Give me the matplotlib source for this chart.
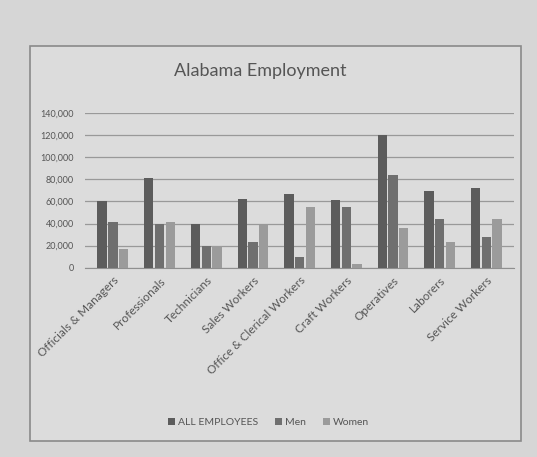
import numpy as np
import matplotlib
matplotlib.use("Agg")
import matplotlib.pyplot as plt
from matplotlib.patches import Rectangle
from matplotlib.ticker import FuncFormatter

categories = ["Officials & Managers", "Professionals", "Technicians", "Sales Workers",
              "Office & Clerical Workers", "Craft Workers", "Operatives", "Laborers",
              "Service Workers"]
all_employees = [60000, 81000, 40000, 62000, 67000, 61000, 120000, 69000, 72000]
men = [41000, 40000, 20000, 23000, 10000, 55000, 84000, 44000, 28000]
women = [17000, 41000, 19500, 39000, 55000, 3500, 36000, 23500, 44000]
series_names = ["ALL EMPLOYEES", "Men", "Women"]

plt.rcParams['font.family'] = ['Lato', 'DejaVu Sans']

fig = plt.figure(figsize=(5.37, 4.57), dpi=100)
fig.patch.set_facecolor("#d6d6d6")

# chart frame
fig.patches.append(Rectangle((0.055, 0.035), 0.915, 0.865, transform=fig.transFigure,
                             facecolor="#dcdcdc", edgecolor="#8a8a8a", lw=1.2, zorder=-5))

ax = fig.add_axes([0.158, 0.414, 0.80, 0.339])
ax.set_zorder(2)
ax.set_facecolor("none")

x = np.arange(len(categories))
w = 0.2
colors = ["#5c5c5c", "#6f6f6f", "#9b9b9b"]
for i, (vals, name) in enumerate(zip([all_employees, men, women], series_names)):
    ax.bar(x + (i - 1) * (w + 0.03), vals, w, color=colors[i], label=name, zorder=3)

ax.set_ylim(0, 140000)
ax.set_yticks(range(0, 140001, 20000))
ax.yaxis.set_major_formatter(FuncFormatter(lambda v, p: f"{int(v):,}"))
ax.set_xlim(-0.6, len(categories) - 0.4)
ax.set_xticks(x)
ax.set_xticklabels(categories, rotation=45, ha="right", rotation_mode="anchor",
                   fontsize=8.5, color="#555555")
ax.tick_params(axis="y", labelsize=6.5, labelcolor="#555555", length=0, pad=8)
ax.tick_params(axis="x", length=0, pad=5)
ax.grid(axis="y", color="#999999", lw=0.9, zorder=0)
for s in ["top", "right", "left"]:
    ax.spines[s].set_visible(False)
ax.spines["bottom"].set_color("#8f8f8f")

fig.text(0.485, 0.845, "Alabama Employment", ha="center", va="center",
         fontsize=13, color="#555555")

fig.legend(loc="center", bbox_to_anchor=(0.50, 0.075), ncol=3, frameon=False,
           fontsize=7.5, handlelength=0.7, handleheight=0.7, columnspacing=1.6,
           handletextpad=0.3, labelcolor="#555555")

fig.savefig("out.png", dpi=100, facecolor=fig.get_facecolor())
